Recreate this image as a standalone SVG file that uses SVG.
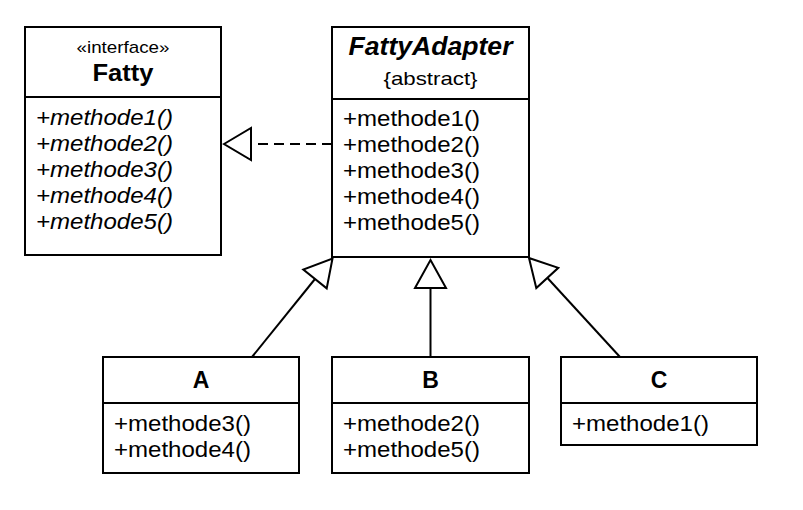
<svg xmlns="http://www.w3.org/2000/svg" width="803" height="510" viewBox="0 0 803 510">
<style>
.box{fill:#fff;stroke:#000;stroke-width:2}
.div{stroke:#000;stroke-width:2}
.line{stroke:#000;stroke-width:2;fill:none}
.head{fill:#fff;stroke:#000;stroke-width:2;stroke-linejoin:miter}
text{font-family:"Liberation Sans",Arial,Helvetica,sans-serif;fill:#000}
.m{font-size:22.5px}
.mi{font-size:22.5px;font-style:italic}
.nm{font-size:24px;font-weight:bold;text-anchor:middle}
.st{font-size:17px;text-anchor:middle}
</style>
<rect width="803" height="510" fill="#fff"/>
<g id="connectors">
  <line class="line" x1="332" y1="144" x2="251" y2="144" stroke-dasharray="10,6"/>
  <polygon class="head" points="224,144 251,128 251,160"/>
  <line class="line" x1="252" y1="357" x2="315" y2="279"/>
  <polygon class="head" points="332.5,258.5 326.7,288.4 303.3,269.6"/>
  <line class="line" x1="430.5" y1="357" x2="430.5" y2="288"/>
  <polygon class="head" points="430.5,260 446,288 415,288"/>
  <line class="line" x1="620" y1="357" x2="547.5" y2="278"/>
  <polygon class="head" points="529,258 558.3,267.8 536.3,288"/>
</g>
<g id="Fatty">
  <rect class="box" x="25" y="27" width="196" height="228"/>
  <line class="div" x1="25" y1="97" x2="221" y2="97"/>
  <text class="st" x="123" y="53" textLength="93" lengthAdjust="spacingAndGlyphs">«interface»</text>
  <text class="nm" x="123" y="81" textLength="61" lengthAdjust="spacingAndGlyphs">Fatty</text>
  <text class="mi" x="36" y="125" textLength="137" lengthAdjust="spacingAndGlyphs">+methode1()</text>
  <text class="mi" x="36" y="151" textLength="137" lengthAdjust="spacingAndGlyphs">+methode2()</text>
  <text class="mi" x="36" y="177" textLength="137" lengthAdjust="spacingAndGlyphs">+methode3()</text>
  <text class="mi" x="36" y="203" textLength="137" lengthAdjust="spacingAndGlyphs">+methode4()</text>
  <text class="mi" x="36" y="229" textLength="137" lengthAdjust="spacingAndGlyphs">+methode5()</text>
</g>
<g id="FattyAdapter">
  <rect class="box" x="332" y="27" width="197" height="230"/>
  <line class="div" x1="332" y1="99" x2="529" y2="99"/>
  <text class="nm" x="430.5" y="55" font-style="italic" style="font-size:25px" textLength="164" lengthAdjust="spacingAndGlyphs">FattyAdapter</text>
  <text class="st" x="430.5" y="85" style="font-size:19px" textLength="94" lengthAdjust="spacingAndGlyphs">{abstract}</text>
  <text class="m" x="343" y="126" textLength="137" lengthAdjust="spacingAndGlyphs">+methode1()</text>
  <text class="m" x="343" y="152" textLength="137" lengthAdjust="spacingAndGlyphs">+methode2()</text>
  <text class="m" x="343" y="178" textLength="137" lengthAdjust="spacingAndGlyphs">+methode3()</text>
  <text class="m" x="343" y="204" textLength="137" lengthAdjust="spacingAndGlyphs">+methode4()</text>
  <text class="m" x="343" y="230" textLength="137" lengthAdjust="spacingAndGlyphs">+methode5()</text>
</g>
<g id="A">
  <rect class="box" x="103" y="357" width="196" height="116"/>
  <line class="div" x1="103" y1="403" x2="299" y2="403"/>
  <text class="nm" x="201" y="388" style="font-size:23px">A</text>
  <text class="m" x="114" y="431" textLength="137" lengthAdjust="spacingAndGlyphs">+methode3()</text>
  <text class="m" x="114" y="457" textLength="137" lengthAdjust="spacingAndGlyphs">+methode4()</text>
</g>
<g id="B">
  <rect class="box" x="332" y="357" width="197" height="116"/>
  <line class="div" x1="332" y1="403" x2="529" y2="403"/>
  <text class="nm" x="430.5" y="388" style="font-size:23px">B</text>
  <text class="m" x="343" y="431" textLength="137" lengthAdjust="spacingAndGlyphs">+methode2()</text>
  <text class="m" x="343" y="457" textLength="137" lengthAdjust="spacingAndGlyphs">+methode5()</text>
</g>
<g id="C">
  <rect class="box" x="561" y="357" width="196" height="88"/>
  <line class="div" x1="561" y1="403" x2="757" y2="403"/>
  <text class="nm" x="659" y="388" style="font-size:23px">C</text>
  <text class="m" x="572" y="431" textLength="137" lengthAdjust="spacingAndGlyphs">+methode1()</text>
</g>
</svg>
